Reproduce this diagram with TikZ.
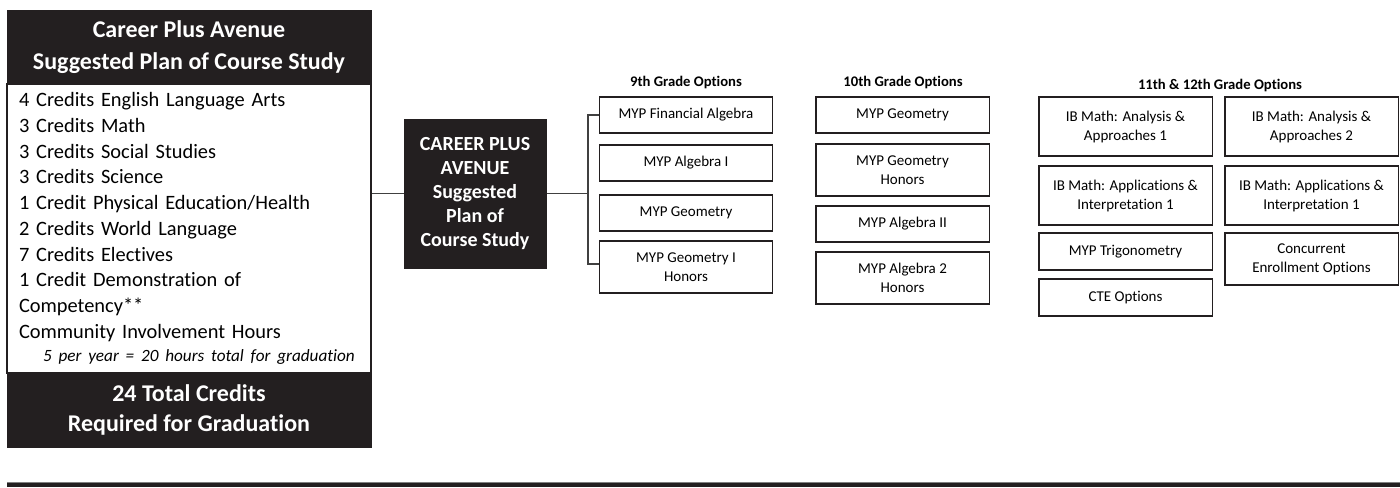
\documentclass[tikz,border=0pt]{standalone}
\usepackage{fontspec}
\setmainfont{Carlito}[Ligatures=NoCommon]
\definecolor{boxdark}{HTML}{231F20}
\definecolor{linkgray}{HTML}{404040}
\tikzset{every picture/.style={line width=0.75pt}}

\begin{document}
\begin{tikzpicture}[x=0.75pt,y=0.75pt,yscale=-1,xscale=1,
  darkbox/.style={fill=boxdark,draw=boxdark,text=white,inner sep=0pt,align=center},
  optbox/.style={draw=boxdark,line width=1pt,minimum width=130pt,inner sep=0pt,align=center,font=\fontsize{11.25}{14.25}\selectfont},
  optlabel/.style={inner sep=0pt,font=\bfseries\fontsize{11}{13}\selectfont},
  link/.style={draw=linkgray,line width=1pt}]
\useasboundingbox (0,0) rectangle (1400,487);

%Shape: Left panel
\node [darkbox,minimum width=273pt,minimum height=55.5pt,font=\bfseries\fontsize{18}{24}\selectfont] (head) at (189,47) {Career Plus Avenue\\Suggested Plan of Course Study};
\node [draw=boxdark,line width=1pt,minimum width=273pt,minimum height=216.75pt,inner xsep=9pt,inner ysep=0pt,text width=255pt,align=left,font=\fontsize{15.3}{19.3}\selectfont] (body) at (189,228.5) {4 Credits English Language Arts\\
3 Credits Math\\
3 Credits Social Studies\\
3 Credits Science\\
1 Credit Physical Education/Health\\
2 Credits World Language\\
7 Credits Electives\\
1 Credit Demonstration of\\
Competency**\\
Community Involvement Hours\\[-2pt]
\hspace*{18pt}{\itshape\fontsize{12.9}{15}\selectfont 5 per year = 20 hours total for graduation}};
\node [darkbox,minimum width=273pt,minimum height=55.5pt,font=\bfseries\fontsize{18}{22.5}\selectfont] (foot) at (189,410) {24 Total Credits\\Required for Graduation};

%Shape: Center box
\node [darkbox,minimum width=106.5pt,minimum height=111.75pt,font=\bfseries\fontsize{15}{18}\selectfont] (plan) at (475,193.5) {CAREER PLUS\\AVENUE\\Suggested\\Plan of\\Course Study};

% Text Node
\node [optlabel] (lab9) at (686,83) {9th Grade Options};
\node [optlabel] (lab10) at (903,83) {10th Grade Options};
\node [optlabel] (lab11) at (1220,85) {11th \& 12th Grade Options};

%Shape: 9th grade boxes
\node [optbox,minimum height=27pt] (g9a) at (686,115) {MYP Financial Algebra};
\node [optbox,minimum height=27pt] (g9b) at (686,163) {MYP Algebra I};
\node [optbox,minimum height=27pt] (g9c) at (686,213) {MYP Geometry};
\node [optbox,minimum height=39pt] (g9d) at (686,267) {MYP Geometry I\\Honors};

%Shape: 10th grade boxes
\node [optbox,minimum height=27pt] (g10a) at (902.5,115) {MYP Geometry};
\node [optbox,minimum height=39pt] (g10b) at (902.5,170) {MYP Geometry\\Honors};
\node [optbox,minimum height=27pt] (g10c) at (902.5,224) {MYP Algebra II};
\node [optbox,minimum height=39pt] (g10d) at (902.5,278) {MYP Algebra 2\\Honors};

%Shape: 11th & 12th grade boxes
\node [optbox,minimum height=44.25pt] (g11a) at (1125.5,126.5) {IB Math: Analysis \&\\Approaches 1};
\node [optbox,minimum height=44.25pt] (g11b) at (1125.5,195.5) {IB Math: Applications \&\\Interpretation 1};
\node [optbox,minimum height=27.75pt] (g11c) at (1125.5,251.5) {MYP Trigonometry};
\node [optbox,minimum height=27.75pt] (g11d) at (1125.5,297.5) {CTE Options};
\node [optbox,minimum height=44.25pt] (g12a) at (1311.5,126.5) {IB Math: Analysis \&\\Approaches 2};
\node [optbox,minimum height=44.25pt] (g12b) at (1311.5,195.5) {IB Math: Applications \&\\Interpretation 1};
\node [optbox,minimum height=39pt] (g12c) at (1311.5,259) {Concurrent\\Enrollment Options};

%Straight Lines
\coordinate (fork) at (588,193.5);
\draw [link] (plan.west) -- (plan.west -| body.east);
\draw [link] (plan.east) -- (fork);
\draw [link] (g9a.west) -| (fork) |- ([yshift=-2.25pt]g9d.west);

%Shape: Bottom bar
\fill [boxdark] (7,482) rectangle (1400,487);
\draw [gray,line width=0.5pt] (7,482) -- (1400,482);

\end{tikzpicture}
\end{document}
